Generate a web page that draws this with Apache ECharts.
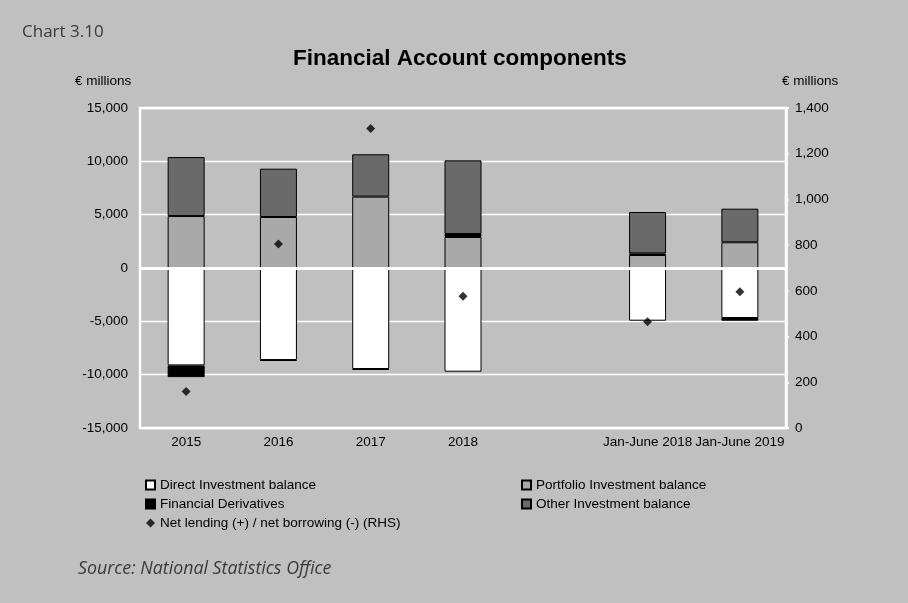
<!DOCTYPE html>
<html>
<head>
<meta charset="utf-8">
<script src="https://cdn.jsdelivr.net/npm/echarts@6/dist/echarts.min.js"></script>
<style>
  html, body { margin: 0; padding: 0; background: #c0c0c0; }
  #chart { width: 908px; height: 603px; }
</style>
</head>
<body>
<div id="chart"></div>
<script>
var categories = ['2015', '2016', '2017', '2018', '', 'Jan-June 2018', 'Jan-June 2019'];
var directInv = [-9130, -8630, -9470, -9720, null, -4940, -4690];
var portfolioInv = [4870, 4780, 6690, 2910, null, 1220, 2410];
var derivatives = [-1100, -80, -80, 280, null, 150, -250];
var otherInv = [5530, 4530, 3970, 6900, null, 3880, 3150];
var netLending = [160, 805, 1310, 576, null, 465, 596];

var leftTicks = { min: -15000, max: 15000, interval: 5000 };
var rightTicks = { min: 0, max: 1400, interval: 200 };

var chartDom = document.getElementById('chart');
var myChart = echarts.init(chartDom);
var option;

var font = 'Liberation Sans, Arial, sans-serif';
function fmt(v) { return Number(v).toLocaleString('en-US'); }

function barSeries(name, data, color) {
  return {
    name: name,
    type: 'bar',
    stack: 'fa',
    barWidth: 37,
    data: data,
    itemStyle: { color: color, borderColor: '#000', borderWidth: 1 },
    emphasis: { disabled: true }
  };
}

var otherSeries = barSeries('Other Investment balance', otherInv, '#6a6a6a');
otherSeries.markLine = {
  silent: true,
  symbol: 'none',
  label: { show: false },
  lineStyle: { color: '#fff', width: 3, type: 'solid' },
  data: [{ yAxis: 0 }]
};

var legendText = { fontFamily: font, fontSize: 13.5, color: '#000', lineHeight: 14 };

option = {
  backgroundColor: '#c0c0c0',
  animation: false,
  textStyle: { fontFamily: font },
  title: [
    {
      text: 'Chart 3.10', left: 17, top: 19,
      textStyle: { fontFamily: 'Open Sans, sans-serif', fontWeight: 'normal', fontSize: 17, color: '#3a3a3a' }
    },
    {
      text: 'Financial Account components', left: 288, top: 42,
      textStyle: { fontFamily: font, fontWeight: 'bold', fontSize: 22.5, color: '#000' }
    },
    {
      text: 'Source: National Statistics Office', left: 73, top: 555,
      textStyle: { fontFamily: 'Open Sans, sans-serif', fontStyle: 'italic', fontWeight: 'normal', fontSize: 17.8, color: '#3a3a3a' }
    }
  ],
  graphic: [
    { type: 'text', left: 75, top: 74, style: { text: '€ millions', font: '13.5px ' + font, fill: '#000' } },
    { type: 'text', left: 782, top: 74, style: { text: '€ millions', font: '13.5px ' + font, fill: '#000' } }
  ],
  legend: [
    {
      orient: 'vertical', left: 145, top: 478, padding: 0,
      itemWidth: 9, itemHeight: 9, itemGap: 5,
      textStyle: legendText,
      data: [
        { name: 'Direct Investment balance', icon: 'rect' },
        { name: 'Financial Derivatives', icon: 'rect' },
        { name: 'Net lending (+) / net borrowing (-) (RHS)', icon: 'diamond' }
      ]
    },
    {
      orient: 'vertical', left: 521, top: 478, padding: 0,
      itemWidth: 9, itemHeight: 9, itemGap: 5,
      textStyle: legendText,
      data: [
        { name: 'Portfolio Investment balance', icon: 'rect' },
        { name: 'Other Investment balance', icon: 'rect' }
      ]
    }
  ],
  grid: {
    left: 140, right: 122, top: 108, bottom: 175,
    show: true, borderColor: '#fff', borderWidth: 2.5, backgroundColor: 'transparent'
  },
  xAxis: {
    type: 'category',
    data: categories,
    axisLine: { show: false, onZero: false },
    axisTick: { show: false },
    axisLabel: { interval: 0, color: '#000', fontSize: 13.5, margin: 7 }
  },
  yAxis: [
    {
      type: 'value',
      min: leftTicks.min, max: leftTicks.max, interval: leftTicks.interval,
      axisLine: { show: false },
      axisTick: { show: false },
      axisLabel: { color: '#000', fontSize: 13.5, margin: 12, formatter: fmt },
      splitLine: { lineStyle: { color: '#fff', width: 1.3 } }
    },
    {
      type: 'value',
      min: rightTicks.min, max: rightTicks.max, interval: rightTicks.interval,
      position: 'right',
      axisLine: { show: true, lineStyle: { color: '#fff', width: 2.5 } },
      axisTick: { show: true, length: 3, lineStyle: { color: '#fff', width: 1.5 } },
      axisLabel: { color: '#000', fontSize: 13.5, margin: 9, formatter: fmt },
      splitLine: { show: false }
    }
  ],
  series: [
    barSeries('Direct Investment balance', directInv, '#ffffff'),
    barSeries('Portfolio Investment balance', portfolioInv, '#a9a9a9'),
    barSeries('Financial Derivatives', derivatives, '#000000'),
    otherSeries,
    {
      name: 'Net lending (+) / net borrowing (-) (RHS)',
      type: 'scatter',
      yAxisIndex: 1,
      symbol: 'diamond',
      symbolSize: 9,
      z: 10,
      data: netLending,
      itemStyle: { color: '#000' },
      emphasis: { disabled: true }
    }
  ]
};

option && myChart.setOption(option);
</script>
</body>
</html>
